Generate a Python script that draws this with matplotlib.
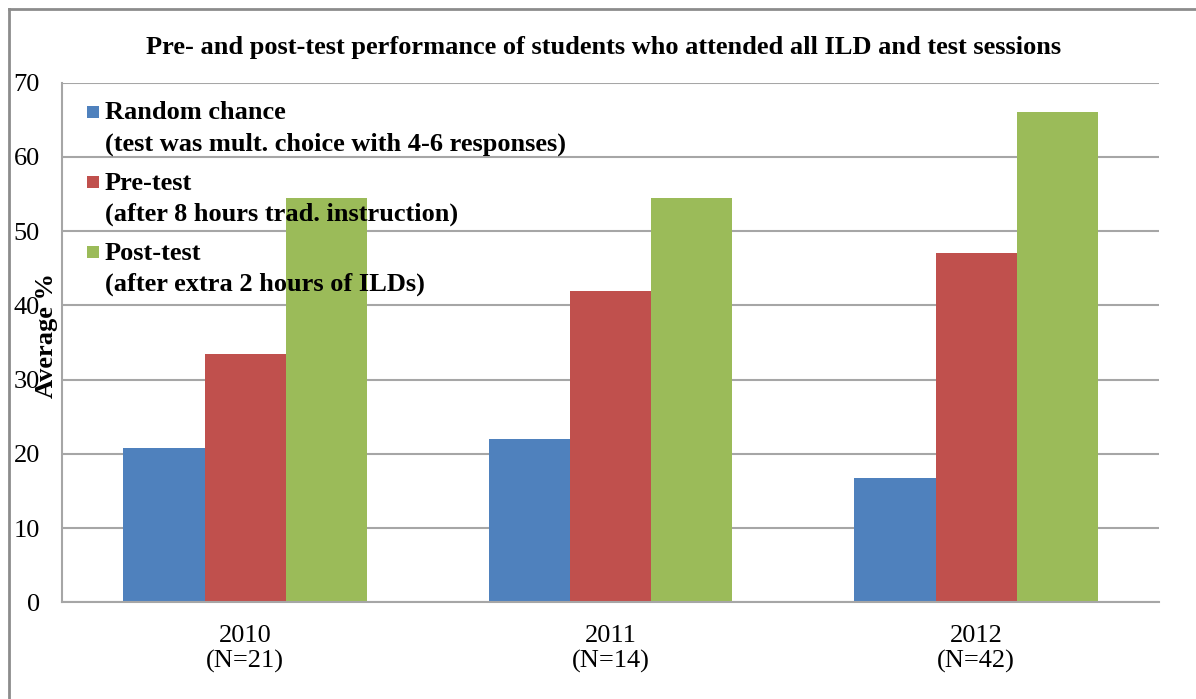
import matplotlib
matplotlib.use("Agg")
import matplotlib.pyplot as plt
from matplotlib.patches import Rectangle
from matplotlib.lines import Line2D
import numpy as np

# Data
years = ["2010\n(N=21)", "2011\n(N=14)", "2012\n(N=42)"]
random_chance = [20.8, 22.0, 16.7]
pre_test = [33.4, 42.0, 47.0]
post_test = [54.5, 54.5, 66.0]

series_names = [
    ("Random chance", "(test was mult. choice with 4-6 responses)"),
    ("Pre-test", "(after 8 hours trad. instruction)"),
    ("Post-test", "(after extra 2 hours of ILDs)"),
]
colors = ["#4F81BD", "#C0504D", "#9BBB59"]
yticks = [0, 10, 20, 30, 40, 50, 60, 70]

W, H = 1196, 699
plt.rcParams["font.family"] = ["Liberation Serif", "DejaVu Serif"]
fig = plt.figure(figsize=(W / 100, H / 100), dpi=100)

def fx(px):
    return px / W

def fy(py):
    return 1 - py / H

ax = fig.add_axes([fx(62.3), fy(602.3), fx(1159) - fx(62.3), fy(82.7) - fy(602.3)])

x = np.arange(len(years))
bw = 0.222
for i, (vals, c) in enumerate(zip([random_chance, pre_test, post_test], colors)):
    ax.bar(x + (i - 1) * bw, vals, width=bw, color=c, edgecolor="none", zorder=2)

ax.set_xlim(-0.5, len(years) - 0.5)
ax.set_ylim(0, 70)
ax.set_yticks(yticks)
ax.set_yticklabels([str(t) for t in yticks], fontsize=19)
ax.set_xticks(x)
ax.set_xticklabels(years, fontsize=19, linespacing=1.18)
ax.tick_params(axis="y", length=0, pad=16)
ax.tick_params(axis="x", length=0, pad=16)
ax.grid(axis="y", color="#A6A6A6", linewidth=1.5, zorder=0)
ax.set_axisbelow(True)
for s in ["top", "right"]:
    ax.spines[s].set_visible(False)
for s in ["left", "bottom"]:
    ax.spines[s].set_color("#A6A6A6")
    ax.spines[s].set_linewidth(1.5)

# Title and axis label
fig.text(fx(603.5), fy(54), "Pre- and post-test performance of students who attended all ILD and test sessions",
         ha="center", va="baseline", fontsize=19, fontweight="bold")
fig.text(fx(47), fy(335), "Average %", rotation=90, ha="center", va="center",
         fontsize=19, fontweight="bold")

# Legend drawn over the plot area
baselines = [(119, 151), (190, 221), (260, 291)]
marker_centers = [112, 181.5, 252]
for (l1, l2), (b1, b2), mc, c in zip(series_names, baselines, marker_centers, colors):
    fig.patches.append(Rectangle((fx(87), fy(mc + 6)), fx(12), fy(0) - fy(12),
                                 transform=fig.transFigure, facecolor=c, edgecolor="none", zorder=3))
    fig.text(fx(105), fy(b1), l1, ha="left", va="baseline", fontsize=19, fontweight="bold")
    fig.text(fx(105), fy(b2), l2, ha="left", va="baseline", fontsize=19, fontweight="bold")

# Chart frame (left and top edges)
fig.add_artist(Line2D([fx(9), fx(9)], [0, fy(9)], color="#8C8C8C", linewidth=2, transform=fig.transFigure))
fig.add_artist(Line2D([fx(9), 1], [fy(9), fy(9)], color="#8C8C8C", linewidth=2, transform=fig.transFigure))

fig.savefig("out.png", dpi=100)
